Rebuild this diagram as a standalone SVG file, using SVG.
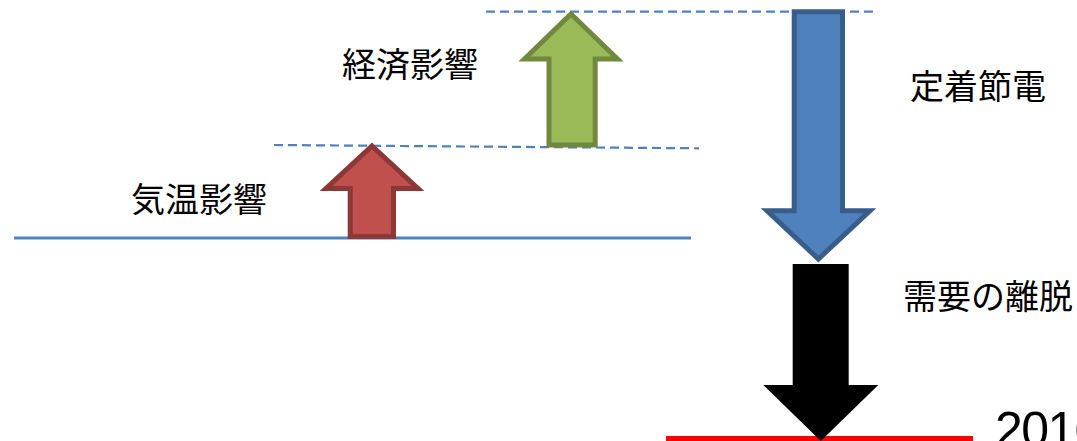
<svg xmlns="http://www.w3.org/2000/svg" width="1077" height="441" viewBox="0 0 1077 441">
<style>
.lbl{font-family:"Noto Sans CJK JP","Noto Sans CJK SC",sans-serif;font-size:34px;fill:#000}
.num{font-family:"Liberation Sans",Arial,sans-serif;font-size:50px;letter-spacing:-1.5px;fill:#000}
.dash{stroke:#4F81BD;stroke-width:2.2;stroke-dasharray:9,5;fill:none}
.solid{stroke:#4F81BD;stroke-width:3;fill:none}
.arr{stroke-width:5;stroke-linejoin:miter;stroke-miterlimit:10}
</style>
<rect width="1077" height="441" fill="#fff"/>
<g id="connectors">
<line class="solid" x1="14" y1="238" x2="691" y2="238"/>
<line class="dash" x1="274" y1="145" x2="699" y2="148.3"/>
<line class="dash" x1="486" y1="11.7" x2="873" y2="11.7"/>
<rect x="666" y="436" width="307" height="5" fill="#FF0000"/>
</g>
<g id="arrow-temp">
<path class="arr" d="M372,146 L418,188.5 L393.5,188.5 L393.5,236.5 L350.2,236.5 L350.2,188.5 L326,188.5 Z" fill="#C0504D" stroke="#8C3836"/>
</g>
<g id="arrow-econ">
<path class="arr" d="M571,14 L617.5,59 L595.2,59 L595.2,145 L549,145 L549,59 L524.5,59 Z" fill="#9BBB59" stroke="#71893F"/>
</g>
<g id="arrow-save">
<path class="arr" d="M794.2,11.8 L842.5,11.8 L842.5,210.8 L870,210.8 L818.4,259 L767,210.8 L794.2,210.8 Z" fill="#4F81BD" stroke="#385D8A"/>
</g>
<g id="arrow-leave">
<path d="M792.7,264 H848.7 V385 H878.3 L820.8,441 L763.3,385 H792.7 Z" fill="#000"/>
</g>
<g id="label-econ"><text class="lbl" x="342" y="77">経済影響</text></g>
<g id="label-temp"><text class="lbl" x="131" y="212">気温影響</text></g>
<g id="label-save"><text class="lbl" x="910" y="99">定着節電</text></g>
<g id="label-leave"><text class="lbl" x="903" y="309">需要の離脱</text></g>
<g id="label-year"><text class="num" x="995" y="447">2016</text></g>
</svg>
